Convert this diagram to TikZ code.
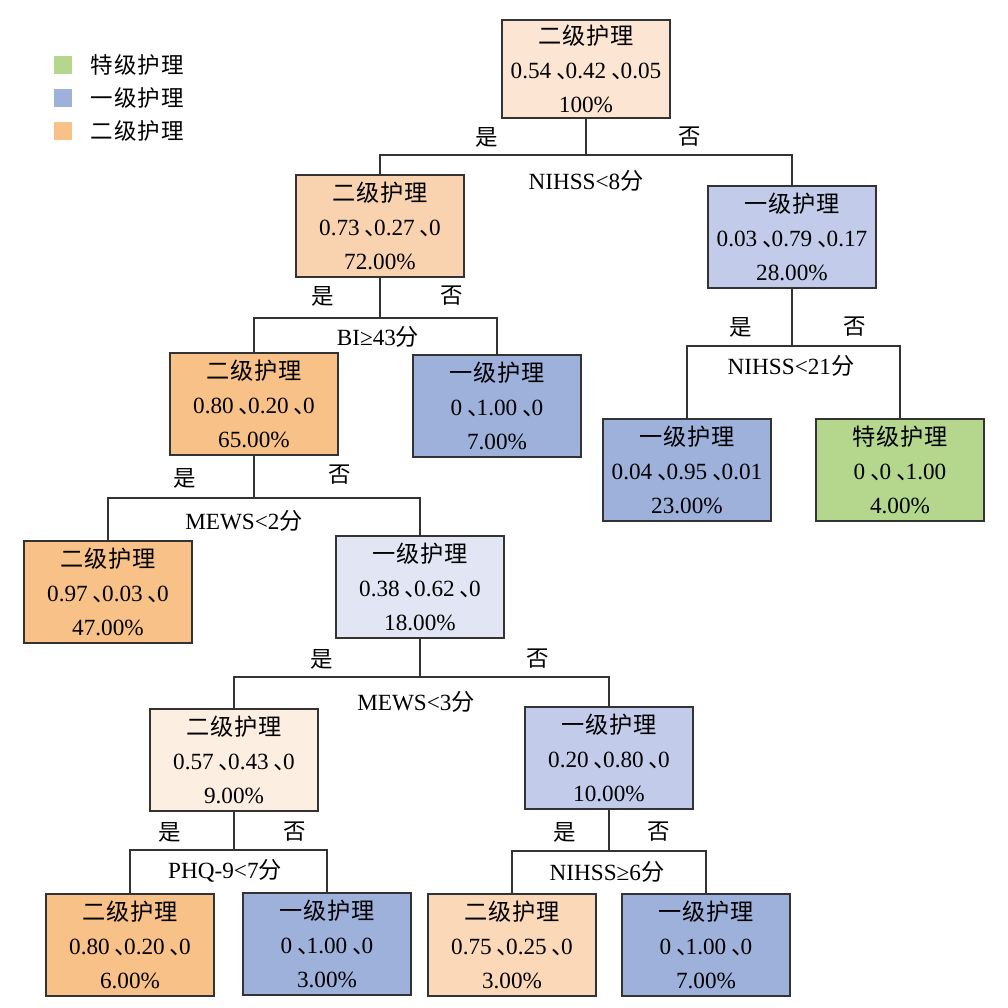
\documentclass[tikz,border=0pt]{standalone}
\usepackage{fontspec}
\setmainfont{Liberation Serif}
\newfontfamily\cjk[LetterSpace=4]{Noto Sans CJK SC}
\newfontfamily\cjkp{Noto Sans CJK SC}
\usetikzlibrary{positioning}

\definecolor{peachA}{HTML}{FCE5D2}
\definecolor{peachB}{HTML}{F9D3B0}
\definecolor{peachC}{HTML}{FDEEE2}
\definecolor{peachD}{HTML}{FAD8B8}
\definecolor{orangeA}{HTML}{F7C188}
\definecolor{blueA}{HTML}{9DB1DB}
\definecolor{blueB}{HTML}{C2CCEA}
\definecolor{blueC}{HTML}{E2E6F4}
\definecolor{greenA}{HTML}{B4D78D}

\newcommand\dn{\kern0.22em{\cjkp 、}\kern-0.6em}
\newcommand\leaftext[3]{{\cjk #1}\\#2\\#3}

\begin{document}
\begin{tikzpicture}[
  x=0.025cm, y=-0.025cm,
  font=\fontsize{16.5}{24}\selectfont,
  leaf/.style={draw=black!80, line width=0.85pt, align=center, minimum width=4.2cm, minimum height=2.55cm, inner sep=0pt},
  tag/.style={inner sep=1pt, font=\fontsize{16}{18}\selectfont\cjk},
  cond/.style={inner sep=1pt},
  link/.style={draw=black!80, line width=0.75pt},
  swatch/.style={minimum size=0.45cm, inner sep=0pt}
]
\useasboundingbox (0,0) rectangle (1008,1008);

% legend
\node[swatch, fill=greenA] (lg1) at (63,65) {};
\node[swatch, fill=blueA] (lg2) at (63,98) {};
\node[swatch, fill=orangeA] (lg3) at (63,131) {};
\node[anchor=west, font=\fontsize{16}{18}\selectfont\cjk] at (86,65) {特级护理};
\node[anchor=west, font=\fontsize{16}{18}\selectfont\cjk] at (86,98) {一级护理};
\node[anchor=west, font=\fontsize{16}{18}\selectfont\cjk] at (86,131) {二级护理};

% tree nodes
\node[leaf, fill=peachA, minimum height=2.45cm] (root) at (586,69) {\leaftext{二级护理}{0.54\dn0.42\dn0.05}{100\%}};
\node[leaf, fill=peachB] (n2) at (380,226) {\leaftext{二级护理}{0.73\dn0.27\dn0}{72.00\%}};
\node[leaf, fill=blueB] (n3) at (792,237) {\leaftext{一级护理}{0.03\dn0.79\dn0.17}{28.00\%}};
\node[leaf, fill=orangeA] (n4) at (254,404) {\leaftext{二级护理}{0.80\dn0.20\dn0}{65.00\%}};
\node[leaf, fill=blueA] (n5) at (497,406) {\leaftext{一级护理}{0\dn1.00\dn0}{7.00\%}};
\node[leaf, fill=blueA] (n6) at (687,470) {\leaftext{一级护理}{0.04\dn0.95\dn0.01}{23.00\%}};
\node[leaf, fill=greenA] (n7) at (900,470) {\leaftext{特级护理}{0\dn0\dn1.00}{4.00\%}};
\node[leaf, fill=orangeA] (n8) at (108,592) {\leaftext{二级护理}{0.97\dn0.03\dn0}{47.00\%}};
\node[leaf, fill=blueC] (n9) at (420,587) {\leaftext{一级护理}{0.38\dn0.62\dn0}{18.00\%}};
\node[leaf, fill=peachC] (n10) at (234,760) {\leaftext{二级护理}{0.57\dn0.43\dn0}{9.00\%}};
\node[leaf, fill=blueB] (n11) at (609,758) {\leaftext{一级护理}{0.20\dn0.80\dn0}{10.00\%}};
\node[leaf, fill=orangeA] (n12) at (130,945) {\leaftext{二级护理}{0.80\dn0.20\dn0}{6.00\%}};
\node[leaf, fill=blueA] (n13) at (327,944) {\leaftext{一级护理}{0\dn1.00\dn0}{3.00\%}};
\node[leaf, fill=peachD] (n14) at (512,945) {\leaftext{二级护理}{0.75\dn0.25\dn0}{3.00\%}};
\node[leaf, fill=blueA] (n15) at (706,945) {\leaftext{一级护理}{0\dn1.00\dn0}{7.00\%}};

% split points
\coordinate (s1) at (586,155);
\coordinate (s2) at (380,318);
\coordinate (s3) at (792,346);
\coordinate (s4) at (254,498);
\coordinate (s5) at (420,677);
\coordinate (s6) at (234,850);
\coordinate (s7) at (609,851);

% connectors
\draw[link] (root) -- (s1);
\draw[link] (n2.north) |- (s1) -| (n3.north);
\draw[link] (n2) -- (s2);
\draw[link] (n4.north) |- (s2) -| (n5.north);
\draw[link] (n3) -- (s3);
\draw[link] (n6.north) |- (s3) -| (n7.north);
\draw[link] (n4) -- (s4);
\draw[link] (n8.north) |- (s4) -| (n9.north);
\draw[link] (n9) -- (s5);
\draw[link] (n10.north) |- (s5) -| (n11.north);
\draw[link] (n10) -- (s6);
\draw[link] (n12.north) |- (s6) -| (n13.north);
\draw[link] (n11) -- (s7);
\draw[link] (n14.north) |- (s7) -| (n15.north);

% branch labels
\node[tag] (y1) at (487,137) {是};
\node[tag] (f1) at (690,137) {否};
\node[cond] (c1) at (586,181) {NIHSS<8{\cjk 分}};
\node[tag] (y2) at (323,296) {是};
\node[tag] (f2) at (452,296) {否};
\node[cond] (c2) at (378,337) {BI≥43{\cjk 分}};
\node[tag] (y3) at (741,327) {是};
\node[tag] (f3) at (855,327) {否};
\node[cond] (c3) at (791,366) {NIHSS<21{\cjk 分}};
\node[tag] (y4) at (185,478) {是};
\node[tag] (f4) at (340,475) {否};
\node[cond] (c4) at (244,521) {MEWS<2{\cjk 分}};
\node[tag] (y5) at (322,659) {是};
\node[tag] (f5) at (538,659) {否};
\node[cond] (c5) at (416,702) {MEWS<3{\cjk 分}};
\node[tag] (y6) at (170,832) {是};
\node[tag] (f6) at (295,832) {否};
\node[cond] (c6) at (225,871) {PHQ-9<7{\cjk 分}};
\node[tag] (y7) at (565,832) {是};
\node[tag] (f7) at (659,832) {否};
\node[cond] (c7) at (607,872) {NIHSS≥6{\cjk 分}};
\end{tikzpicture}
\end{document}
